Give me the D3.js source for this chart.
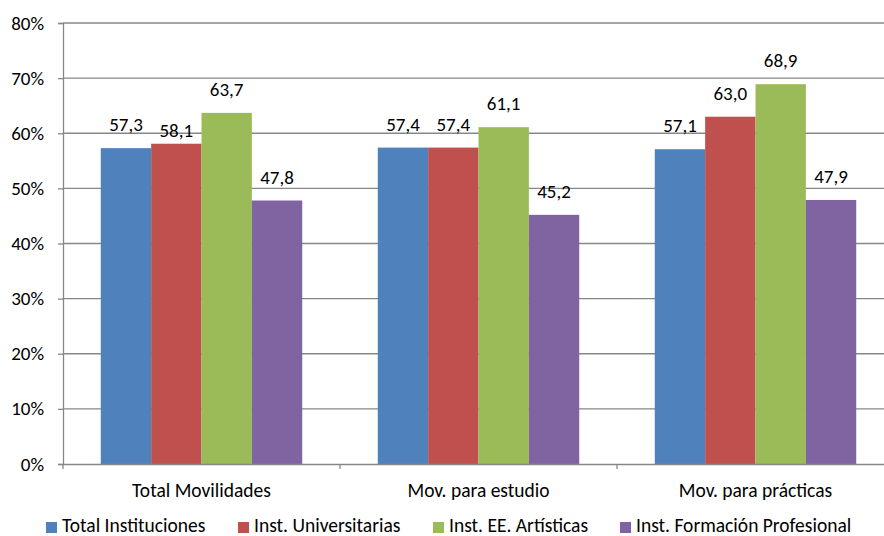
<!DOCTYPE html>
<html><head><meta charset="utf-8">
<script src="https://cdn.jsdelivr.net/npm/d3@7"></script>
<style>body{margin:0;background:#fff}svg{display:block}text{font-family:Carlito,Calibri,Lato,sans-serif;fill:#000}</style>
</head><body><svg id="c" width="884" height="536"></svg>
<script>
const categories = ["Total Movilidades","Mov. para estudio","Mov. para prácticas"];
const seriesNames = ["Total Instituciones","Inst. Universitarias","Inst. EE. Artísticas","Inst. Formación Profesional"];
const totalInstituciones = [57.3,57.4,57.1];
const instUniversitarias = [58.1,57.4,63.0];
const instArtisticas = [63.7,61.1,68.9];
const instFP = [47.8,45.2,47.9];
const yTicks = [0,10,20,30,40,50,60,70,80];
const colors = ["#4F81BD","#C0504D","#9BBB59","#8064A2"];
const series = [totalInstituciones,instUniversitarias,instArtisticas,instFP];

(function(){
const svg = d3.select("#c");
const pl=63, pr=894, pt=23, pb=464;
const x = d3.scaleBand().domain(categories).range([pl,pr]).paddingInner(0).paddingOuter(0);
const bw = x.bandwidth()/5.5;
const y = d3.scaleLinear().domain([0,80]).range([pb,pt]);
const fsNum = 19, fsTxt = 19.5;
const grid = "#878787";

svg.append("g").selectAll("line").data(yTicks.filter(d=>d>0)).join("line")
 .attr("x1",pl).attr("x2",pr).attr("y1",d=>y(d)).attr("y2",d=>y(d))
 .attr("stroke",grid).attr("stroke-width",1.3);

const ya = svg.append("g").attr("transform",`translate(${pl},0)`)
 .call(d3.axisLeft(y).tickValues(yTicks).tickFormat(d=>d+"%").tickSize(5).tickPadding(14));
ya.select(".domain").attr("stroke",grid).attr("stroke-width",1.3);
ya.selectAll(".tick line").attr("stroke",grid).attr("stroke-width",1.3);
ya.selectAll("text").attr("font-size",fsNum).attr("font-family",null).attr("fill","#000");

// Excel-style label placement; one label sits lower in the source chart
const nudge = (si,ci) => (si===1 && ci===0) ? 10 : 0;
categories.forEach((c,ci)=>{
  series.forEach((s,si)=>{
    const bx = x(c)+bw*0.75+si*bw;
    svg.append("rect").attr("x",bx).attr("y",y(s[ci])).attr("width",bw).attr("height",y(0)-y(s[ci]))
      .attr("fill",colors[si]);
    svg.append("text").attr("x",bx+bw/2).attr("y",y(s[ci])-17+nudge(si,ci)).attr("text-anchor","middle")
      .attr("font-size",fsNum).text(s[ci].toFixed(1).replace(".",","));
  });
});

const xa = svg.append("g").attr("transform",`translate(0,${pb})`)
 .call(d3.axisBottom(x).tickSize(0).tickPadding(19));
xa.select(".domain").attr("stroke",grid).attr("stroke-width",1.3);
xa.selectAll("text").attr("font-size",fsTxt).attr("font-family",null).attr("fill","#000");
svg.append("g").selectAll("line").data(d3.range(0,4)).join("line")
 .attr("x1",d=>pl+d*x.step()).attr("x2",d=>pl+d*x.step()).attr("y1",pb).attr("y2",pb+5)
 .attr("stroke",grid).attr("stroke-width",1.3);

const lx=[46,238,433,620];
seriesNames.forEach((n,i)=>{
  svg.append("rect").attr("x",lx[i]).attr("y",522).attr("width",11).attr("height",11).attr("fill",colors[i]);
  svg.append("text").attr("x",lx[i]+16).attr("y",532).attr("font-size",fsTxt).text(n);
});
})();
</script></body></html>
